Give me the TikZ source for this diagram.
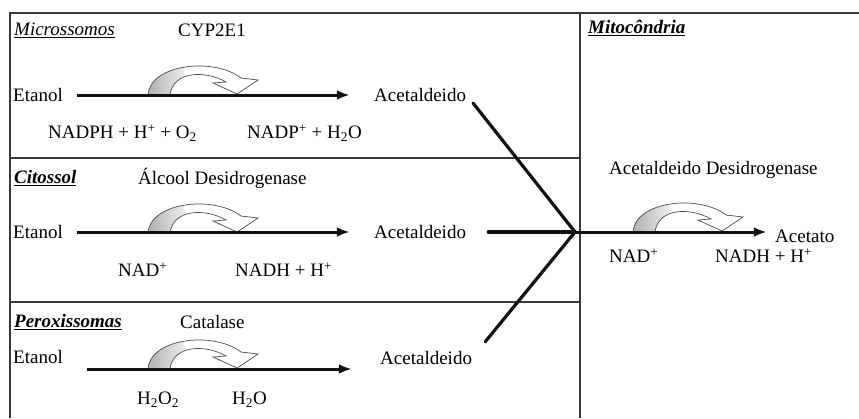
\documentclass[tikz,border=0pt]{standalone}
\usepackage{fontspec}
\setmainfont{Liberation Serif}
\usepackage{xcolor}
\usetikzlibrary{arrows.meta,positioning}
\definecolor{ink}{HTML}{111111}
\definecolor{frame}{HTML}{3A3A3A}
\tikzset{lbl/.style={anchor=west,inner sep=0pt,font=\fontsize{19}{22}\selectfont},
  head/.style={lbl},
  rxn/.style={-{Latex[length=4.6mm,width=3.4mm]},line width=3pt,draw=ink},
  link/.style={line width=3.2pt,draw=ink,line cap=round},
  wall/.style={line width=2pt,draw=frame},
  divide/.style={line width=1.4pt,draw=frame},
  curvpath/.style={insert path={(0,0) .. controls (2,-31) and (66,-38) .. (93,-17)
    -- (110,-15) -- (89,-1) -- (65,-12) -- (78,-13)
    .. controls (57,-25) and (25,-24) .. (22,0) -- cycle}},
  curv/.pic={
    \fill[white,curvpath];
    \begin{scope}
      \clip[curvpath];
      \shade[left color=gray!65,right color=gray!15] (-2,-42) rectangle (36,1);
    \end{scope}
    \draw[gray!60!black,line width=.7pt,curvpath];
  }}

\begin{document}
\begin{tikzpicture}[x=1pt,y=-1pt]
\useasboundingbox (0,0) rectangle (859,418);
% compartment frame
\draw[wall] (10,418) -- (10,13) -- (859,13);
\draw[wall] (580,13) -- (580,418);
\draw[divide] (10,158) -- (580,158);
\draw[divide] (10,302) -- (580,302);
% microssomos
\node[head] (mic) at (14,30) {\underline{\textit{Microssomos}}};
\node[lbl] (cyp) at (178,30) {CYP2E1};
\node[lbl] (et1) at (13,95) {Etanol};
\node[lbl] (ac1) at (374,95) {Acetaldeido};
\node[lbl] (in1) at (48,133) {NADPH + H\textsuperscript{+} + O\textsubscript{2}};
\node[lbl] (out1) at (247,133) {NADP\textsuperscript{+} + H\textsubscript{2}O};
\pic at (148,95) {curv};
\draw[rxn,shorten <=14pt,shorten >=24pt] (et1.east) -- (ac1.west);
% citossol
\node[head] (cit) at (14,178) {\underline{\textit{\textbf{Citossol}}}};
\node[lbl] (adh) at (138,178) {Álcool Desidrogenase};
\node[lbl] (et2) at (13,232) {Etanol};
\node[lbl] (ac2) at (374,232) {Acetaldeido};
\node[lbl] (in2) at (118,270) {NAD\textsuperscript{+}};
\node[lbl] (out2) at (235,270) {NADH + H\textsuperscript{+}};
\pic at (148,233) {curv};
\draw[rxn,shorten <=14pt,shorten >=24pt] (et2.east) -- (ac2.west);
% peroxissomas
\node[head] (per) at (14,322) {\underline{\textit{\textbf{Peroxissomas}}}};
\node[lbl] (cat) at (180,322) {Catalase};
\node[lbl] (et3) at (13,357) {Etanol};
\node[lbl] (ac3) at (380,358) {Acetaldeido};
\node[lbl] (in3) at (137,400) {H\textsubscript{2}O\textsubscript{2}};
\node[lbl] (out3) at (232,400) {H\textsubscript{2}O};
\coordinate (s3) at (87,369);
\coordinate (e3) at (352,369);
\pic at (148,369) {curv};
\draw[rxn] (s3) -- (e3);
% mitocondria
\node[head] (mito) at (588,28) {\underline{\textit{\textbf{Mitocôndria}}}};
\node[lbl] (aldh) at (609,170) {Acetaldeido Desidrogenase};
\node[lbl] (acet) at (775,236) {Acetato};
\node[lbl] (in4) at (609,256) {NAD\textsuperscript{+}};
\node[lbl] (out4) at (715,256) {NADH + H\textsuperscript{+}};
\coordinate (jn) at (575,232);
\coordinate (e4) at (767,232);
\coordinate (c1) at (473,103);
\coordinate (c3) at (485,342);
\pic at (633,232) {curv};
% converging lines
\draw[link] (c1) -- (jn);
\draw[link,shorten <=22pt] (ac2.east) -- (jn);
\draw[link] (c3) -- (jn);
\draw[rxn] (jn) -- (e4);
\end{tikzpicture}
\end{document}
